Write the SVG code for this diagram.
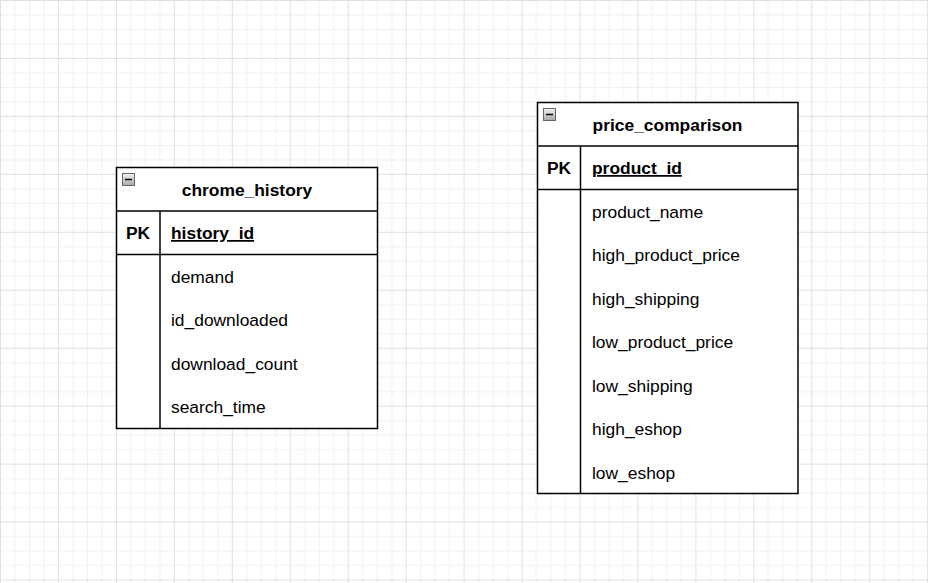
<svg xmlns="http://www.w3.org/2000/svg" width="928" height="583" viewBox="0 0 928 583">
<defs>
<pattern id="grid" x="0" y="0" width="57.95" height="57.95" patternUnits="userSpaceOnUse">
<g stroke="#f0f0f0" stroke-width="1">
<line x1="14.99" y1="0" x2="14.99" y2="57.95"/>
<line x1="29.48" y1="0" x2="29.48" y2="57.95"/>
<line x1="43.96" y1="0" x2="43.96" y2="57.95"/>
<line x1="0" y1="14.99" x2="57.95" y2="14.99"/>
<line x1="0" y1="29.48" x2="57.95" y2="29.48"/>
<line x1="0" y1="43.96" x2="57.95" y2="43.96"/>
</g>
<g stroke="#e0e0e0" stroke-width="1">
<line x1="0.5" y1="0" x2="0.5" y2="57.95"/>
<line x1="0" y1="0.5" x2="57.95" y2="0.5"/>
</g>
</pattern>
<linearGradient id="btn" x1="0" y1="0" x2="0" y2="1">
<stop offset="0" stop-color="#f2f2f2"/>
<stop offset="1" stop-color="#a8a8a8"/>
</linearGradient>
</defs>
<style>
.box{fill:#ffffff;stroke:#000000;stroke-width:1.5}
.ln{stroke:#000000;stroke-width:1.5;fill:none}
.t{font-family:"Liberation Sans",Arial,sans-serif;font-size:17.4px;fill:#000000}
.b{font-weight:bold}
.u{text-decoration:underline}
.mid{text-anchor:middle}
.btn{fill:url(#btn);stroke:#666666;stroke-width:1}
.minus{stroke:#000000;stroke-width:1.5}
</style>
<rect width="928" height="583" fill="#ffffff"/>
<rect width="928" height="583" fill="url(#grid)"/>
<g id="connectors"></g>
<g id="chrome_history">
<rect class="box" x="116.5" y="167.5" width="261" height="261"/>
<line class="ln" x1="116.5" y1="211" x2="377.5" y2="211"/>
<line class="ln" x1="116.5" y1="254.5" x2="377.5" y2="254.5"/>
<line class="ln" x1="160" y1="211" x2="160" y2="428.5"/>
<rect class="btn" x="122.5" y="173.5" width="12" height="12"/>
<line class="minus" x1="125" y1="179.5" x2="132" y2="179.5"/>
<text class="t b mid" x="247" y="196">chrome_history</text>
<text class="t b mid" x="138" y="239">PK</text>
<text class="t b u" x="171" y="239">history_id</text>
<text class="t" x="171" y="283">demand</text>
<text class="t" x="171" y="326">id_downloaded</text>
<text class="t" x="171" y="370">download_count</text>
<text class="t" x="171" y="413">search_time</text>
</g>
<g id="price_comparison">
<rect class="box" x="537.5" y="102.5" width="260.5" height="391"/>
<line class="ln" x1="537.5" y1="146" x2="798" y2="146"/>
<line class="ln" x1="537.5" y1="189.5" x2="798" y2="189.5"/>
<line class="ln" x1="580.5" y1="146" x2="580.5" y2="493.5"/>
<rect class="btn" x="543.5" y="108.5" width="12" height="12"/>
<line class="minus" x1="546" y1="114.5" x2="553" y2="114.5"/>
<text class="t b mid" x="667.5" y="131">price_comparison</text>
<text class="t b mid" x="559" y="174">PK</text>
<text class="t b u" x="592" y="174">product_id</text>
<text class="t" x="592" y="218">product_name</text>
<text class="t" x="592" y="261">high_product_price</text>
<text class="t" x="592" y="305">high_shipping</text>
<text class="t" x="592" y="348">low_product_price</text>
<text class="t" x="592" y="392">low_shipping</text>
<text class="t" x="592" y="435">high_eshop</text>
<text class="t" x="592" y="479">low_eshop</text>
</g>
</svg>
